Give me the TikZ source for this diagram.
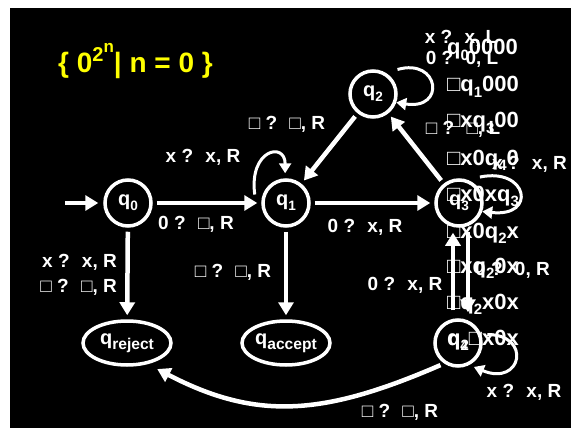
\documentclass[tikz,border=0pt]{standalone}
\usepackage{fontspec}
\setmainfont{Liberation Sans}
\usepackage{graphicx}
\usetikzlibrary{arrows.meta,shapes.geometric}
\definecolor{setyellow}{RGB}{255,255,0}
% lowered, smaller index after a state letter
\newcommand\lowidx[1]{\raisebox{-0.24em}{\scalebox{0.68}{#1}}}
\newcommand\qst[1]{q\lowidx{#1}}
\begin{document}
\begin{tikzpicture}[x=1pt,y=-1pt,
  state/.style={circle,draw=white,line width=3.5pt,minimum size=46pt,inner sep=0pt,
    text=white,font=\fontsize{20}{20}\selectfont\bfseries},
  halt/.style={ellipse,draw=white,line width=3.5pt,minimum width=88pt,minimum height=44pt,
    inner sep=0pt,text=white,font=\fontsize{20}{20}\selectfont\bfseries},
  edge/.style={white,line width=4.5pt,-{Triangle[length=13pt,width=15pt]},
    shorten >=4pt,shorten <=4pt},
  loopedge/.style={white,line width=3pt,-{Triangle[length=10pt,width=12pt]}},
  lbl/.style={text=white,inner sep=0pt,anchor=base,font=\fontsize{19}{19}\selectfont\bfseries},
  tape/.style={text=white,inner sep=0pt,anchor=base west,font=\fontsize{22}{22}\selectfont\bfseries},
]
\useasboundingbox (0,0) rectangle (571,428);
\fill[white] (0,0) rectangle (571,428);
\fill[black] (10,8) rectangle (571,428);

% title
\node[anchor=base,text=setyellow,inner sep=0pt,font=\fontsize{28}{28}\selectfont\bfseries]
  (title) at (135.5,73)
  {\{ 0\raisebox{11pt}{\fontsize{20}{20}\selectfont 2\raisebox{9pt}{\fontsize{17}{17}\selectfont n}}| n = 0 \}};

% states
\node[state] (q0) at (128,203) {\qst{0}};
\node[state] (q1) at (286,203) {\qst{1}};
\node[state] (q2) at (373,94) {\qst{2}};
\node[state] (q3) at (459,203) {\qst{3}};
\node[state] (q4) at (458,343) {\qst{4}};
\node[halt] (rej) at (127,343) {q\raisebox{-0.24em}{\scalebox{0.78}{reject}}};
\node[halt] (acc) at (286,343) {q\raisebox{-0.24em}{\scalebox{0.78}{accept}}};

% transitions
\coordinate (start) at (65,203);
\draw[edge,shorten <=0pt,shorten >=5pt] (start) -- (q0);
\draw[edge] (q0) -- (q1);
\draw[edge] (q1) -- (q3);
\draw[edge] (q0) -- (rej);
\draw[edge] (q1) -- (acc);
\draw[edge] (q2) -- (q1);
\draw[edge] (q3) -- (q2);
\draw[edge,shorten <=8pt,shorten >=5pt] ([xshift=-5pt]q4.north) -- ([xshift=-6pt]q3.south);
\draw[edge,line width=3.5pt,shorten <=4pt,shorten >=6pt] ([xshift=9pt]q3.south) -- ([xshift=10pt]q4.north);
\draw[edge,shorten >=0pt] (q4.-124) .. controls +(-120,52) and +(100,52) .. ([xshift=3pt,yshift=-7pt]rej.-35);

% self loops
\draw[loopedge] ([xshift=-8pt]q1.160) .. controls +(-6,-45) and +(0,-32) .. ([yshift=5pt]q1.92);
\draw[loopedge] ([xshift=7pt,yshift=7pt]q2.45) .. controls +(42,-12) and +(50,8) .. (q2.-20);
\draw[loopedge] ([xshift=5pt,yshift=7pt]q3.50) .. controls +(48,-10) and +(55,6) .. (q3.-20);
\draw[loopedge] ([xshift=6pt]q4.20) .. controls +(45,0) and +(48,20) .. ([yshift=-5pt]q4.-50);

% transition labels
\node[lbl] (l01) at (196,229) {0 ?~ □, R};
\node[lbl] (l11) at (203,162) {x ?~ x, R};
\node[lbl] (l21) at (287,129) {□ ?~ □, R};
\node[lbl] (l13) at (365,232) {0 ?~ x, R};
\node[lbl,anchor=base east] (l0ra) at (117,267) {x ?~ x, R};
\node[lbl,anchor=base east] (l0rb) at (117,292) {□ ?~ □, R};
\node[lbl] (l1a) at (233,277) {□ ?~ □, R};
\node[lbl] (l32) at (463,135) {□ ?~ □, L};
\node[lbl] (l22a) at (461,44) {x ?~ x, L};
\node[lbl] (l22b) at (462,65) {0 ?~ 0, L};
\node[lbl,anchor=base east] (l33) at (567,169) {x ?~ x, R};
\node[lbl,anchor=base east] (l34) at (550,275) {0 ?~ 0, R};
\node[lbl] (l43) at (405,290) {0 ?~ x, R};
\node[lbl] (l44) at (524,397) {x ?~ x, R};
\node[lbl] (l4r) at (400,417) {□ ?~ □, R};

% tape configurations
\node[tape] (c1) at (447,55)  {q\lowidx{0}0000};
\node[tape] (c2) at (447,92)  {□q\lowidx{1}000};
\node[tape] (c3) at (447,128) {□xq\lowidx{3}00};
\node[tape] (c4) at (447,165) {□x0q\lowidx{4}0};
\node[tape] (c5) at (447,201) {□x0xq\lowidx{3}};
\node[tape] (c6) at (447,238) {□x0q\lowidx{2}x};
\node[tape] (c7) at (447,273) {□xq\lowidx{2}0x};
\node[tape] (c8) at (447,309) {□q\lowidx{2}x0x};
\node[tape] (c9) at (447,345) {q\lowidx{2}□x0x};
\end{tikzpicture}
\end{document}
